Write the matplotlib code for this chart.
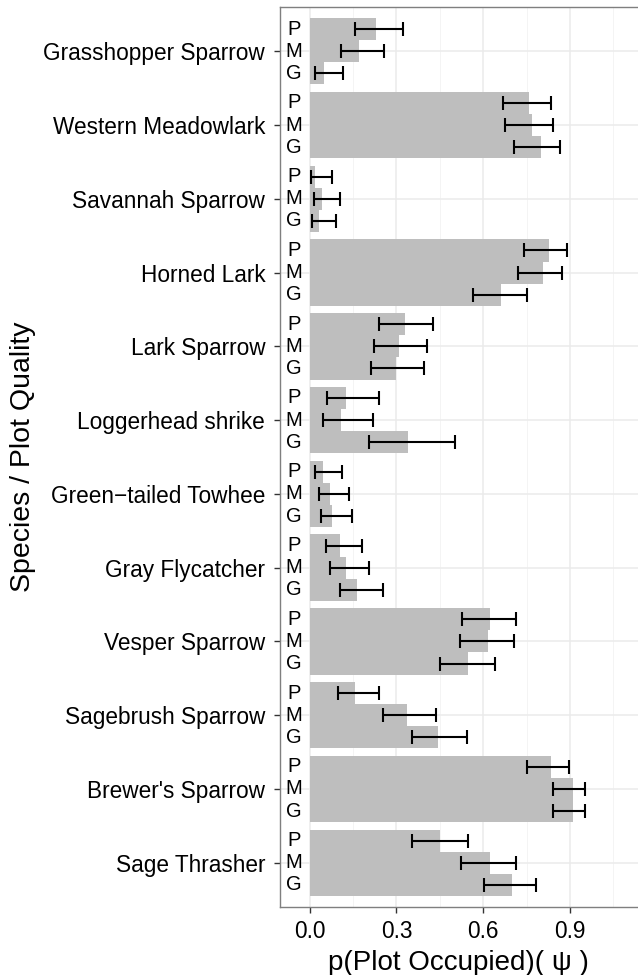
import numpy as np
import matplotlib
matplotlib.use("Agg")
import matplotlib.pyplot as plt

plt.rcParams['font.family'] = ['Liberation Sans', 'DejaVu Sans']

# species listed from top to bottom as drawn
species = ["Grasshopper Sparrow", "Western Meadowlark", "Savannah Sparrow",
           "Horned Lark", "Lark Sparrow", "Loggerhead shrike",
           "Green\u2212tailed Towhee", "Gray Flycatcher", "Vesper Sparrow",
           "Sagebrush Sparrow", "Brewer's Sparrow", "Sage Thrasher"]
quality = ["P", "M", "G"]

# occupancy estimates and interval bounds, one list per plot quality
p_psi = [0.231, 0.759, 0.018, 0.826, 0.329, 0.125, 0.047, 0.104, 0.625, 0.156, 0.836, 0.449]
p_lo  = [0.156, 0.667, 0.005, 0.740, 0.240, 0.059, 0.020, 0.055, 0.528, 0.097, 0.751, 0.354]
p_hi  = [0.323, 0.833, 0.077, 0.888, 0.427, 0.241, 0.113, 0.181, 0.715, 0.240, 0.895, 0.546]

m_psi = [0.170, 0.768, 0.042, 0.806, 0.308, 0.107, 0.069, 0.125, 0.615, 0.338, 0.912, 0.625]
m_lo  = [0.107, 0.677, 0.015, 0.719, 0.221, 0.048, 0.032, 0.070, 0.519, 0.255, 0.842, 0.522]
m_hi  = [0.257, 0.842, 0.105, 0.874, 0.406, 0.219, 0.136, 0.206, 0.705, 0.437, 0.953, 0.713]

g_psi = [0.051, 0.799, 0.031, 0.663, 0.298, 0.339, 0.078, 0.165, 0.549, 0.445, 0.912, 0.701]
g_lo  = [0.020, 0.708, 0.009, 0.565, 0.211, 0.205, 0.039, 0.104, 0.452, 0.354, 0.842, 0.602]
g_hi  = [0.115, 0.865, 0.092, 0.750, 0.394, 0.502, 0.148, 0.254, 0.642, 0.544, 0.953, 0.784]

series = [(p_psi, p_lo, p_hi), (m_psi, m_lo, m_hi), (g_psi, g_lo, g_hi)]
offsets = [0.3, 0.0, -0.3]

fig = plt.figure(figsize=(6.38, 9.75), dpi=100)
ax = fig.add_axes([279.5 / 638, 68 / 975, 1 - 279.5 / 638, 900 / 975])

ypos = np.arange(len(species), 0, -1)  # top species gets the highest position

for (vals, lo, hi), off, q in zip(series, offsets, quality):
    vals = np.array(vals)
    y = ypos + off
    ax.barh(y, vals, height=0.3, color="#bebebe", zorder=2)
    ax.errorbar(vals, y, xerr=[vals - np.array(lo), np.array(hi) - vals],
                fmt="none", ecolor="black", elinewidth=1.5, capsize=5.2,
                capthick=1.5, zorder=3)
    for yy in y:
        ax.text(-0.054, yy, q, ha="center", va="center", fontsize=14.5,
                color="black", zorder=4)

ax.set_xlim(-0.104, 1.135)
ax.set_ylim(0.4, len(species) + 0.6)
ax.set_xticks([0.0, 0.3, 0.6, 0.9])
ax.set_xticklabels(["0.0", "0.3", "0.6", "0.9"])
ax.set_xticks([0.15, 0.45, 0.75, 1.05], minor=True)
ax.set_yticks(ypos)
ax.set_yticklabels(species)

ax.grid(True, which="major", color="#ebebeb", linewidth=1.1, zorder=0)
ax.grid(True, which="minor", axis="x", color="#f2f2f2", linewidth=0.6, zorder=0)
ax.set_axisbelow(True)

for side in ["left", "top", "bottom"]:
    ax.spines[side].set_color("#7f7f7f")
    ax.spines[side].set_linewidth(1.0)
ax.spines["right"].set_visible(False)

ax.tick_params(axis="both", which="major", length=4.3, width=1.0,
               color="#333333", labelsize=16.3, labelcolor="black")
ax.tick_params(axis="y", pad=6)
ax.tick_params(axis="x", pad=5)
ax.tick_params(which="minor", length=0)

ax.set_xlabel("p(Plot Occupied)( \u03c8 )", fontsize=20, labelpad=5)
ax.set_ylabel("Species / Plot Quality", fontsize=20.5, labelpad=5.5)

fig.savefig("out.png", dpi=100)
